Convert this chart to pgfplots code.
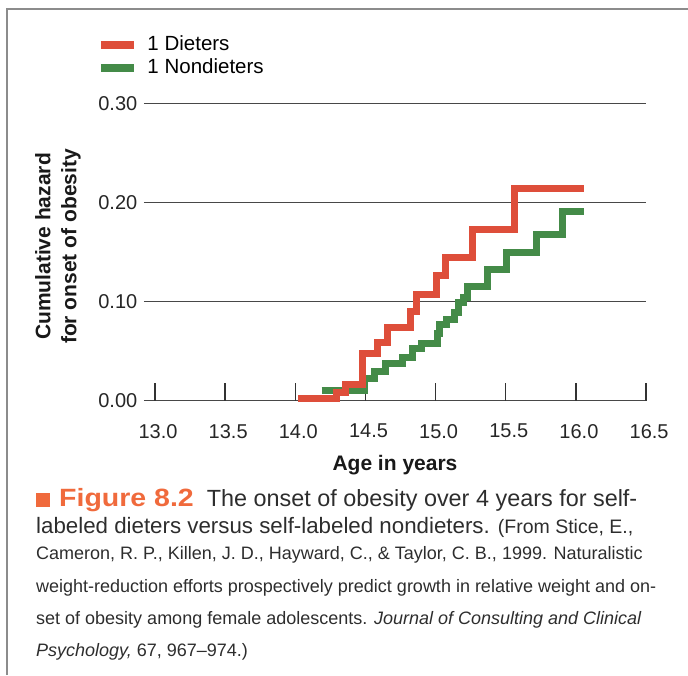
\documentclass[border=0pt]{standalone}
\usepackage{pgfplots}
\pgfplotsset{compat=1.18}
\usepackage{fontspec}
\usepackage{graphicx}
\setmainfont{Liberation Sans}
\definecolor{dred}{RGB}{222,78,58}
\definecolor{ngreen}{RGB}{68,139,72}
\definecolor{figor}{RGB}{240,106,60}
\definecolor{captxt}{RGB}{45,45,45}
\definecolor{framegray}{RGB}{140,140,140}
\pgfplotstableread{
age haz
14.188 0.010
14.492 0.022
14.563 0.029
14.646 0.038
14.766 0.044
14.837 0.053
14.896 0.058
15.015 0.068
15.029 0.0765
15.074 0.082
15.131 0.089
15.160 0.099
15.195 0.104
15.224 0.1155
15.371 0.1327
15.507 0.150
15.718 0.1677
15.906 0.1913
16.060 0.1913
}\nondieters
\pgfplotstableread{
age haz
14.020 0.002
14.295 0.008
14.360 0.016
14.480 0.048
14.587 0.059
14.659 0.074
14.821 0.090
14.860 0.107
15.008 0.126
15.069 0.145
15.264 0.173
15.561 0.214
16.060 0.214
}\dieters
\begin{document}
\begin{tikzpicture}[x=1pt,y=1pt]
\path[use as bounding box] (0,0) rectangle (688,675);
\draw[framegray, line width=1.5pt] (7,0) -- (7,666) -- (688,666);
\begin{axis}[
  at={(143.8pt,274.3pt)}, anchor=south west,
  scale only axis, width=502.3pt, height=297pt,
  xmin=12.92, xmax=16.5, ymin=0, ymax=0.30,
  clip=false,
  axis line style={draw=none},
  xtick={13,13.5,14,14.5,15,15.5,16,16.5},
  ytick={0,0.1,0.2,0.3},
  xtick pos=bottom,
  tick align=inside,
  major tick length=18pt,
  xtick style={line width=1.4pt, color=black!80},
  ytick style={draw=none},
  ymajorgrids,
  major grid style={line width=1.4pt, color=black!72},
  /pgf/number format/assume math mode=true,
  ticklabel style={font=\fontsize{20}{23}\selectfont, text=black!85},
  xticklabel style={/pgf/number format/.cd, fixed, fixed zerofill, precision=1, /tikz/.cd, yshift=-20pt, xshift=3pt},
  yticklabel style={/pgf/number format/.cd, fixed, fixed zerofill, precision=2, /tikz/.cd, xshift=-3pt},
  xlabel={Age in years},
  xlabel style={font=\bfseries\fontsize{21}{25}\selectfont, text=black!90, yshift=-10pt},
  reverse legend,
  legend cell align=left,
  legend image code/.code={\draw[line width=8pt] (0pt,0pt) -- (33pt,0pt);},
  legend style={at={(axis description cs:-0.0932,1.236)}, anchor=north west,
    draw=none, fill=none, inner sep=0pt, outer sep=0pt,
    font=\fontsize{20.5}{23}\selectfont,
    nodes={text height=14pt, text depth=4pt, inner sep=2.5pt},
    /tikz/every odd column/.append style={column sep=7pt}},
]
\addplot[const plot, color=ngreen, line width=7pt] table[x=age, y=haz] {\nondieters};
\addlegendentry{1 Nondieters}
\addplot[const plot, color=dred, line width=7pt] table[x=age, y=haz] {\dieters};
\addlegendentry{1 Dieters}
\end{axis}
\node[rotate=90, align=center, font=\bfseries\fontsize{21}{26}\selectfont, text=black!90] at (58,428.5) {Cumulative hazard\\for onset of obesity};
\fill[figor] (36,168) rectangle (50,182);
\node[anchor=base west, inner sep=0pt, font=\fontsize{23.4}{26}\selectfont, text=captxt] at (59,168.5) {{\color{figor}\scalebox{1.14}[1]{\fontsize{25}{28}\selectfont\bfseries Figure 8.2}}\hspace{13pt}The onset of obesity over 4 years for self-};
\node[anchor=base west, inner sep=0pt, font=\fontsize{22.3}{26}\selectfont, text=captxt] at (36,141.5) {labeled dieters versus self-labeled nondieters.\hspace{8pt}{\fontsize{19.5}{20}\selectfont(From Stice, E.,}};
\node[anchor=base west, inner sep=0pt, font=\fontsize{18}{20}\selectfont, text=captxt] at (36,116) {Cameron, R. P., Killen, J. D., Hayward, C., \& Taylor, C. B., 1999. Naturalistic};
\node[anchor=base west, inner sep=0pt, font=\fontsize{18}{20}\selectfont, text=captxt] at (36,83) {weight-reduction efforts prospectively predict growth in relative weight and on-};
\node[anchor=base west, inner sep=0pt, font=\fontsize{18}{20}\selectfont, text=captxt] at (36,51) {set of obesity among female adolescents. \textit{Journal of Consulting and Clinical}};
\node[anchor=base west, inner sep=0pt, font=\fontsize{18}{20}\selectfont, text=captxt] at (36,19) {\textit{Psychology,} 67, 967--974.)};
\end{tikzpicture}
\end{document}
